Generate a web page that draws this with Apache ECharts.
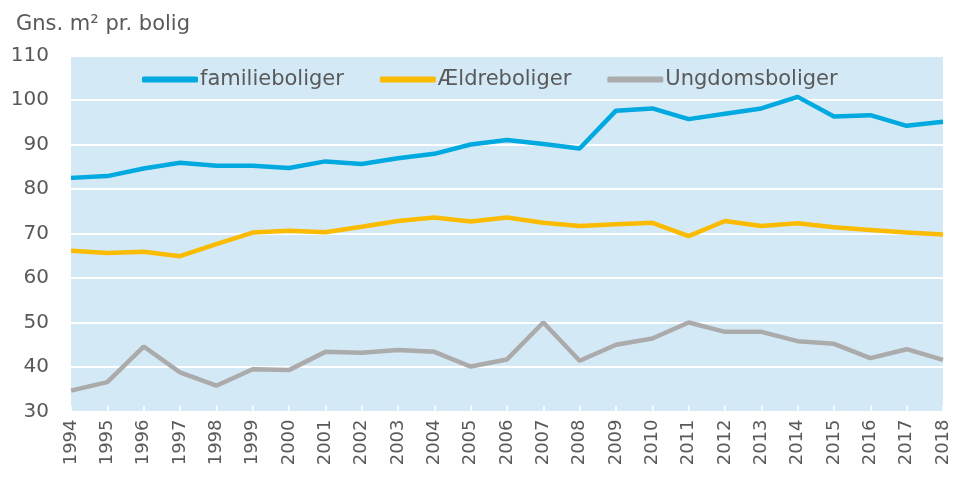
<!DOCTYPE html>
<html>
<head>
<meta charset="utf-8">
<script src="https://cdn.jsdelivr.net/npm/echarts@6/dist/echarts.min.js"></script>
<style>
  html, body { margin: 0; padding: 0; background: #fff; }
  #chart { width: 954px; height: 480px; }
</style>
</head>
<body>
<div id="chart"></div>
<script>
var years = ['1994', '1995', '1996', '1997', '1998', '1999', '2000', '2001', '2002', '2003', '2004', '2005', '2006',
  '2007', '2008', '2009', '2010', '2011', '2012', '2013', '2014', '2015', '2016', '2017', '2018'];
var familieboliger = [82.5, 82.9, 84.6, 85.9, 85.2, 85.2, 84.7, 86.2, 85.6, 86.9, 87.9, 90.0, 91.0,
  90.1, 89.1, 97.6, 98.1, 95.7, 96.9, 98.1, 100.7, 96.3, 96.6, 94.2, 95.1];
var aeldreboliger = [66.1, 65.6, 65.9, 64.9, 67.6, 70.2, 70.6, 70.3, 71.5, 72.8, 73.6, 72.7, 73.6,
  72.4, 71.7, 72.1, 72.4, 69.4, 72.8, 71.7, 72.3, 71.4, 70.8, 70.2, 69.8];
var ungdomsboliger = [34.7, 36.6, 44.6, 38.8, 35.8, 39.5, 39.3, 43.4, 43.2, 43.8, 43.4, 40.1, 41.7,
  50.0, 41.4, 45.0, 46.4, 50.0, 47.9, 47.9, 45.8, 45.2, 42.0, 44.0, 41.6];

var font = 'DejaVu Sans';
var textColor = '#595959';

var myChart = echarts.init(document.getElementById('chart'));
var option = {
  animation: false,
  color: ['#00A9E0', '#FABB00', '#ABABAB'],
  title: {
    text: 'Gns. m² pr. bolig',
    left: 11,
    top: 9,
    textStyle: { fontFamily: font, fontSize: 21, fontWeight: 'normal', color: textColor }
  },
  legend: {
    left: 137,
    top: 64,
    itemGap: 36,
    itemWidth: 56,
    itemHeight: 6,
    icon: 'roundRect',
    textStyle: { fontFamily: font, fontSize: 21, color: textColor, padding: [0, 0, 0, -3] },
    data: ['familieboliger', 'Ældreboliger', 'Ungdomsboliger']
  },
  grid: {
    left: 71,
    right: 11,
    top: 55.5,
    bottom: 68.5,
    show: true,
    backgroundColor: '#D3E9F6',
    borderWidth: 0
  },
  xAxis: [{
    type: 'category',
    data: years,
    boundaryGap: false,
    axisLine: { show: false },
    axisTick: { show: true, inside: true, length: 6, lineStyle: { color: '#ffffff', width: 1.5 } },
    axisLabel: { rotate: 90, margin: 8, fontFamily: font, fontSize: 18, color: textColor, interval: 0 }
  }],
  yAxis: [{
    type: 'value',
    min: 30,
    max: 110,
    interval: 10,
    axisLine: { show: false },
    axisTick: { show: false },
    axisLabel: { margin: 22, fontFamily: font, fontSize: 20, color: textColor },
    splitLine: { lineStyle: { color: '#ffffff', width: 2 } }
  }],
  series: [{
    name: 'familieboliger',
    type: 'line',
    data: familieboliger,
    symbol: 'none',
    lineStyle: { width: 4.5 }
  }, {
    name: 'Ældreboliger',
    type: 'line',
    data: aeldreboliger,
    symbol: 'none',
    lineStyle: { width: 4.5 }
  }, {
    name: 'Ungdomsboliger',
    type: 'line',
    data: ungdomsboliger,
    symbol: 'none',
    lineStyle: { width: 4.5 }
  }]
};

// x labels sometimes come out unrotated here; check and try simpler variants
function labelsRotated() {
  var found = null;
  var roots = myChart.getZr().storage.getRoots();
  function visit(el) {
    if (found !== null) return;
    if (el.style && el.style.text === years[0]) {
      var m = el.getComputedTransform ? el.getComputedTransform() : el.transform;
      found = !!(m && Math.abs(m[1]) > 0.5);
      return;
    }
    if (el.childrenRef) {
      var ch = el.childrenRef();
      for (var i = 0; i < ch.length; i++) visit(ch[i]);
    }
  }
  for (var i = 0; i < roots.length; i++) visit(roots[i]);
  return found;
}

function copy(o) { return JSON.parse(JSON.stringify(o)); }

var tweaks = [
  function (o) { },
  function (o) { delete o.xAxis[0].axisLabel.fontFamily; delete o.xAxis[0].axisLabel.margin; },
  function (o) { o.xAxis[0].axisLabel.fontSize = 16; },
  function (o) { o.grid.bottom = 68; o.grid.top = 55; },
  function (o) { o.series.forEach(function (s) { s.showSymbol = false; delete s.symbol; }); },
  function (o) { delete o.legend.textStyle.padding; },
  function (o) { o.yAxis[0].axisLabel = { margin: 22, fontSize: 20, color: textColor }; },
  function (o) { o.xAxis[0].axisLine = { show: true, lineStyle: { color: '#D3E9F6' } }; },
  function (o) { delete o.xAxis[0].axisLabel.interval; }
];

var chosen = null;
for (var t = 0; t < tweaks.length; t++) {
  var o = copy(option);
  tweaks[t](o);
  myChart.setOption(o, true);
  var r = labelsRotated();
  if (r === null || r === true) { chosen = o; break; }
}
if (!chosen) {
  myChart.setOption(option, true);
}
</script>
</body>
</html>
